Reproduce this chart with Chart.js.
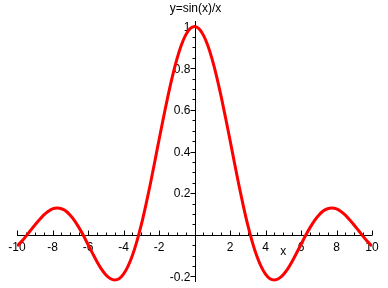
<!DOCTYPE html>
<html>
<head>
<meta charset="utf-8">
<script src="https://cdn.jsdelivr.net/npm/chart.js@4/dist/chart.umd.min.js"></script>
<style>
  html, body { margin: 0; padding: 0; background: #fff; }
  canvas { display: block; }
</style>
</head>
<body>
<canvas id="sincChart" width="388" height="288"></canvas>
<script>
// values, x step 0.25
const xs = [
  -10, -9.75, -9.5, -9.25, -9, -8.75, -8.5, -8.25, -8, -7.75, -7.5, -7.25, -7, -6.75, -6.5, -6.25,
  -6, -5.75, -5.5, -5.25, -5, -4.75, -4.5, -4.25, -4, -3.75, -3.5, -3.25, -3, -2.75, -2.5, -2.25,
  -2, -1.75, -1.5, -1.25, -1, -0.75, -0.5, -0.25, 0, 0.25, 0.5, 0.75, 1, 1.25, 1.5, 1.75,
  2, 2.25, 2.5, 2.75, 3, 3.25, 3.5, 3.75, 4, 4.25, 4.5, 4.75, 5, 5.25, 5.5, 5.75,
  6, 6.25, 6.5, 6.75, 7, 7.25, 7.5, 7.75, 8, 8.25, 8.5, 8.75, 9, 9.25, 9.5, 9.75, 10
];
const ys = [
  -0.054, -0.033, -0.008, 0.019, 0.046, 0.071, 0.094, 0.112, 0.124, 0.128, 0.125, 0.114, 0.094, 0.067, 0.033, -0.005,
  -0.047, -0.088, -0.128, -0.164, -0.192, -0.210, -0.217, -0.211, -0.189, -0.152, -0.100, -0.033, 0.047, 0.139, 0.239, 0.346,
  0.455, 0.562, 0.665, 0.759, 0.841, 0.909, 0.959, 0.990, 1.000, 0.990, 0.959, 0.909, 0.841, 0.759, 0.665, 0.562,
  0.455, 0.346, 0.239, 0.139, 0.047, -0.033, -0.100, -0.152, -0.189, -0.211, -0.217, -0.210, -0.192, -0.164, -0.128, -0.088,
  -0.047, -0.005, 0.033, 0.067, 0.094, 0.114, 0.125, 0.128, 0.124, 0.112, 0.094, 0.071, 0.046, 0.019, -0.008, -0.033, -0.054
];
const xTickLabels = ['-10', '-8', '-6', '-4', '-2', '2', '4', '6', '8', '10'];
const yTickLabels = ['-0.2', '0.2', '0.4', '0.6', '0.8', '1'];

const FONT = '12px "Liberation Sans", Arial, sans-serif';

// Maple style axes crossing at the origin, with minor ticks
const mapleAxes = {
  id: 'mapleAxes',
  beforeDatasetsDraw(chart) {
    const ctx = chart.ctx;
    const sx = chart.scales.x, sy = chart.scales.y;
    const x0 = Math.round(sx.getPixelForValue(0)) + 0.5;
    const y0 = Math.round(sy.getPixelForValue(0)) + 0.5;
    ctx.save();
    ctx.strokeStyle = '#000';
    ctx.lineWidth = 1;
    ctx.beginPath();
    ctx.moveTo(sx.left, y0); ctx.lineTo(sx.right, y0);
    ctx.moveTo(x0, sy.top); ctx.lineTo(x0, sy.bottom);
    // x ticks go up
    for (let v = -10; v <= 10.001; v += 0.5) {
      const p = Math.round(sx.getPixelForValue(v)) + 0.5;
      const len = Math.abs(v % 2) < 0.01 ? 5 : 3;
      ctx.moveTo(p, y0); ctx.lineTo(p, y0 - len);
    }
    // y ticks go left
    for (let v = -0.2; v <= 1.0001; v += 0.05) {
      const p = Math.round(sy.getPixelForValue(v)) + 0.5;
      const len = Math.abs(Math.round(v * 100) % 20) < 1 ? 5 : 3;
      ctx.moveTo(x0, p); ctx.lineTo(x0 - len, p);
    }
    ctx.stroke();

    ctx.fillStyle = '#000';
    ctx.font = FONT;
    ctx.textAlign = 'center';
    ctx.textBaseline = 'alphabetic';
    xTickLabels.forEach(t => {
      ctx.fillText(t, sx.getPixelForValue(parseFloat(t)), y0 + 15);
    });
    ctx.fillText('x', sx.getPixelForValue(5), y0 + 19);
    ctx.textAlign = 'right';
    ctx.textBaseline = 'middle';
    yTickLabels.forEach(t => {
      ctx.fillText(t, x0 - 5, sy.getPixelForValue(parseFloat(t)) + 1);
    });
    ctx.textAlign = 'center';
    ctx.textBaseline = 'alphabetic';
    ctx.fillText('y=sin(x)/x', x0, 12);
    ctx.restore();
  }
};

new Chart(document.getElementById('sincChart'), {
  type: 'line',
  data: {
    datasets: [{
      data: xs.map((x, i) => ({ x, y: ys[i] })),
      borderColor: '#ff0000',
      borderWidth: 3,
      pointRadius: 0,
      fill: false,
      cubicInterpolationMode: 'monotone'
    }]
  },
  options: {
    responsive: false,
    animation: false,
    events: [],
    layout: { autoPadding: false, padding: { left: 17, right: 16, top: 21, bottom: 6 } },
    scales: {
      x: { type: 'linear', min: -10, max: 10, display: false },
      y: { type: 'linear', min: -0.227, max: 1.027, display: false }
    },
    plugins: { legend: { display: false }, tooltip: { enabled: false } }
  },
  plugins: [mapleAxes]
});
</script>
</body>
</html>
